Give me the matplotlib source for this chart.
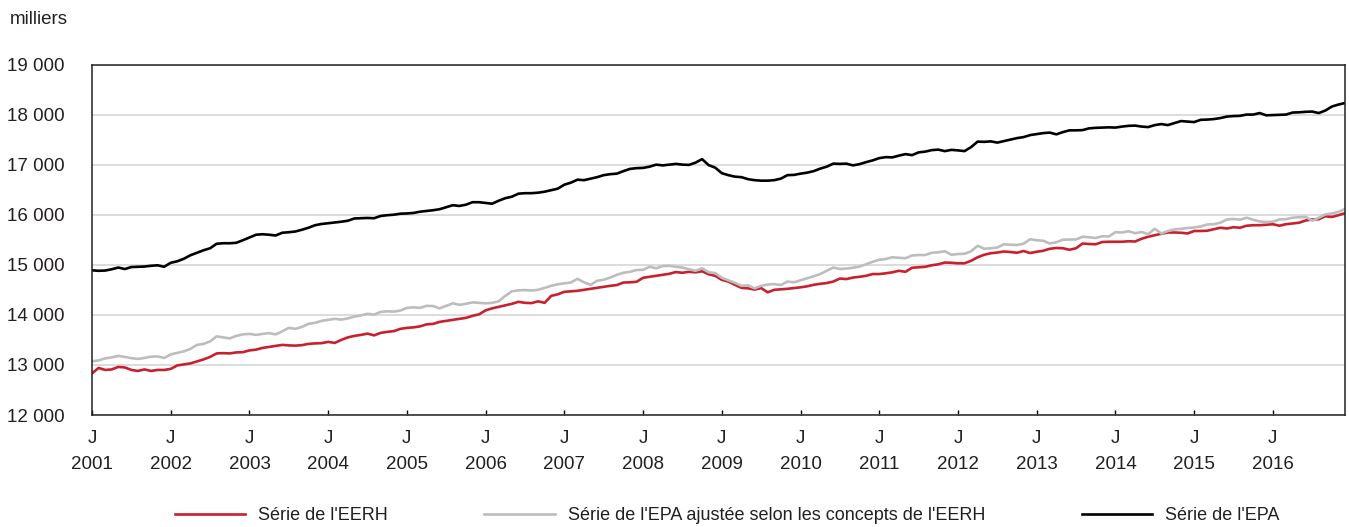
import matplotlib
matplotlib.use('Agg')
import matplotlib.pyplot as plt
from matplotlib import font_manager

# police étroite si disponible, sinon Liberation Sans
noms = {f.name for f in font_manager.fontManager.ttflist}
police = 'Liberation Sans Narrow' if 'Liberation Sans Narrow' in noms else 'Liberation Sans'
plt.rcParams['font.family'] = [police, 'DejaVu Sans']

# --- données mensuelles, janvier 2001 à décembre 2016 (milliers) ---
annees = [str(a) for a in range(2001, 2017)]

eerh = [
    12830, 12940, 12900, 12910, 12960, 12950, 12900, 12880, 12910, 12880, 12900, 12900,
    12920, 12990, 13010, 13030, 13070, 13110, 13160, 13230, 13235, 13230, 13250, 13255,
    13290, 13305, 13340, 13360, 13380, 13400, 13390, 13385, 13395, 13420, 13430, 13435,
    13460, 13440, 13500, 13550, 13580, 13600, 13625, 13590, 13640, 13660, 13675, 13720,
    13740, 13750, 13770, 13810, 13820, 13860, 13880, 13900, 13920, 13940, 13980, 14010,
    14090, 14130, 14160, 14190, 14220, 14260, 14240, 14235, 14270, 14240, 14380, 14410,
    14460, 14470, 14480, 14500, 14520, 14540, 14560, 14580, 14595, 14645, 14650, 14660,
    14740, 14760, 14780, 14800, 14820, 14855, 14840, 14860, 14850, 14870, 14810, 14780,
    14700, 14665, 14600, 14540, 14530, 14505, 14535, 14450, 14500, 14510, 14520, 14535,
    14550, 14570, 14600, 14620, 14635, 14665, 14725, 14715, 14745, 14760, 14780, 14815,
    14815, 14830, 14850, 14880, 14860, 14940, 14950, 14960, 14990, 15010, 15045, 15040,
    15030, 15030, 15080, 15150, 15200, 15230, 15245, 15265, 15255, 15240, 15275, 15235,
    15260, 15280, 15320, 15335, 15330, 15300, 15330, 15425, 15415, 15410, 15455, 15460,
    15460, 15460, 15470, 15465, 15520, 15560, 15590, 15620, 15645, 15645, 15640, 15625,
    15675, 15675, 15680, 15710, 15740, 15725, 15750, 15740, 15780, 15790, 15790, 15800,
    15810, 15780, 15810, 15825, 15840, 15885, 15905, 15910, 15970, 15955, 15990, 16030,
]

epa_ajustee = [
    13070, 13090, 13130, 13150, 13180, 13160, 13135, 13120, 13140, 13165, 13170, 13140,
    13210, 13240, 13270, 13320, 13400, 13420, 13470, 13570, 13550, 13530, 13580, 13610,
    13620, 13600, 13620, 13635, 13610, 13670, 13740, 13720, 13760, 13820, 13840, 13880,
    13900, 13920, 13905, 13930, 13965, 13990, 14020, 14005, 14060, 14070, 14065, 14085,
    14140, 14150, 14140, 14180, 14175, 14130, 14180, 14230, 14200, 14220, 14250, 14240,
    14230, 14240, 14270, 14380, 14470, 14490, 14495, 14485, 14500, 14540, 14580, 14610,
    14630, 14645, 14720, 14650, 14600, 14680, 14700, 14745, 14800, 14840, 14860, 14895,
    14900, 14960, 14930, 14975, 14980, 14960, 14945, 14910, 14880, 14930, 14850, 14835,
    14740, 14690, 14640, 14580, 14590, 14530, 14580, 14605, 14615, 14595, 14665, 14650,
    14690, 14730, 14770, 14815, 14880, 14945, 14915, 14925, 14940, 14965, 15010, 15060,
    15100, 15115, 15150, 15140, 15130, 15185, 15195, 15195, 15240, 15250, 15270, 15200,
    15215, 15220, 15270, 15380, 15320, 15330, 15345, 15410, 15400, 15395, 15420, 15510,
    15490, 15480, 15425, 15450, 15500, 15505, 15505, 15560, 15550, 15535, 15570, 15565,
    15650, 15645, 15670, 15630, 15655, 15610, 15720, 15625, 15675, 15705, 15720, 15735,
    15745, 15765, 15805, 15810, 15840, 15905, 15915, 15900, 15940, 15900, 15865, 15855,
    15860, 15905, 15910, 15940, 15950, 15955, 15880, 15940, 16005, 16025, 16055, 16115,
]

epa = [
    14890, 14880, 14885, 14910, 14945, 14915, 14955, 14960, 14965, 14980, 14990, 14960,
    15040, 15070, 15120, 15190, 15240, 15290, 15330, 15420, 15430, 15430, 15440, 15490,
    15545, 15600, 15610, 15600, 15585, 15640, 15650, 15665, 15700, 15740, 15790, 15815,
    15830, 15845, 15860, 15880, 15925, 15930, 15935, 15930, 15975, 15990, 16000, 16020,
    16025, 16035, 16060, 16075, 16090, 16110, 16150, 16190, 16175, 16200, 16250, 16250,
    16235, 16220, 16280, 16330, 16360, 16420, 16430, 16430, 16440, 16460, 16490, 16520,
    16600, 16640, 16700, 16690, 16720, 16750, 16790, 16810, 16820, 16870, 16915, 16930,
    16935, 16960, 17000, 16985, 17000, 17015, 17000, 16995, 17040, 17110, 16990, 16940,
    16830, 16790, 16760, 16750, 16710, 16690, 16680, 16680, 16690, 16720, 16790, 16795,
    16820, 16840, 16870, 16920, 16960, 17020, 17015, 17020, 16985, 17010, 17050, 17085,
    17130, 17150, 17145, 17180, 17210, 17190, 17245, 17260, 17290, 17300, 17270, 17295,
    17285, 17270, 17350, 17460, 17455, 17465, 17440, 17470, 17500, 17530, 17550, 17590,
    17610, 17630, 17640, 17605, 17650, 17685, 17685, 17690, 17725, 17735, 17740, 17745,
    17740, 17760, 17775, 17780, 17760, 17750, 17790, 17810, 17790, 17830, 17870, 17860,
    17850, 17895, 17900, 17910, 17930, 17960, 17970, 17975, 18000, 18000, 18030, 17985,
    17990, 17995, 18000, 18040, 18045, 18055, 18060, 18030, 18080, 18160, 18200, 18230,
]

graduations_y = [12000, 13000, 14000, 15000, 16000, 17000, 18000, 19000]

mois = list(range(len(epa)))
texte = '#231f20'
taille = 13.5

fig = plt.figure(figsize=(13.49, 5.27), dpi=100)
ax = fig.add_axes([92 / 1349, 112 / 527, 1253 / 1349, 350.5 / 527])

ax.plot(mois, eerh, color='#c8202f', linewidth=1.9, label="Série de l'EERH")
ax.plot(mois, epa_ajustee, color='#bdbdbd', linewidth=1.9,
        label="Série de l'EPA ajustée selon les concepts de l'EERH")
ax.plot(mois, epa, color='#000000', linewidth=1.9, label="Série de l'EPA")

ax.set_xlim(0, len(epa) - 1)
ax.set_ylim(12000, 19000)
ax.set_yticks(graduations_y)
ax.set_yticklabels([f"{v:,}".replace(',', ' ') for v in graduations_y])
ax.set_xticks(range(0, len(epa), 12))
ax.set_xticklabels([f"J\n{a}" for a in annees], linespacing=1.7)
ax.tick_params(axis='y', length=0, pad=20, labelsize=taille, labelcolor=texte)
ax.tick_params(axis='x', direction='in', length=3.5, width=1, pad=10.5,
               labelsize=taille, labelcolor=texte)
ax.grid(axis='y', color='#d9d9d9', linewidth=1.3)
ax.set_axisbelow(True)
for s in ax.spines.values():
    s.set_linewidth(1.1)
    s.set_color('#222222')

fig.text(10 / 1349, 1 - 19 / 527, 'milliers', fontsize=taille, color=texte, va='center')

fig.legend(loc='center', bbox_to_anchor=(727 / 1349, 1 - 516 / 527), ncol=3,
           frameon=False, fontsize=13, handlelength=3.9, handletextpad=0.72,
           columnspacing=5.35, labelcolor=texte)

fig.savefig('out.png', dpi=100)
